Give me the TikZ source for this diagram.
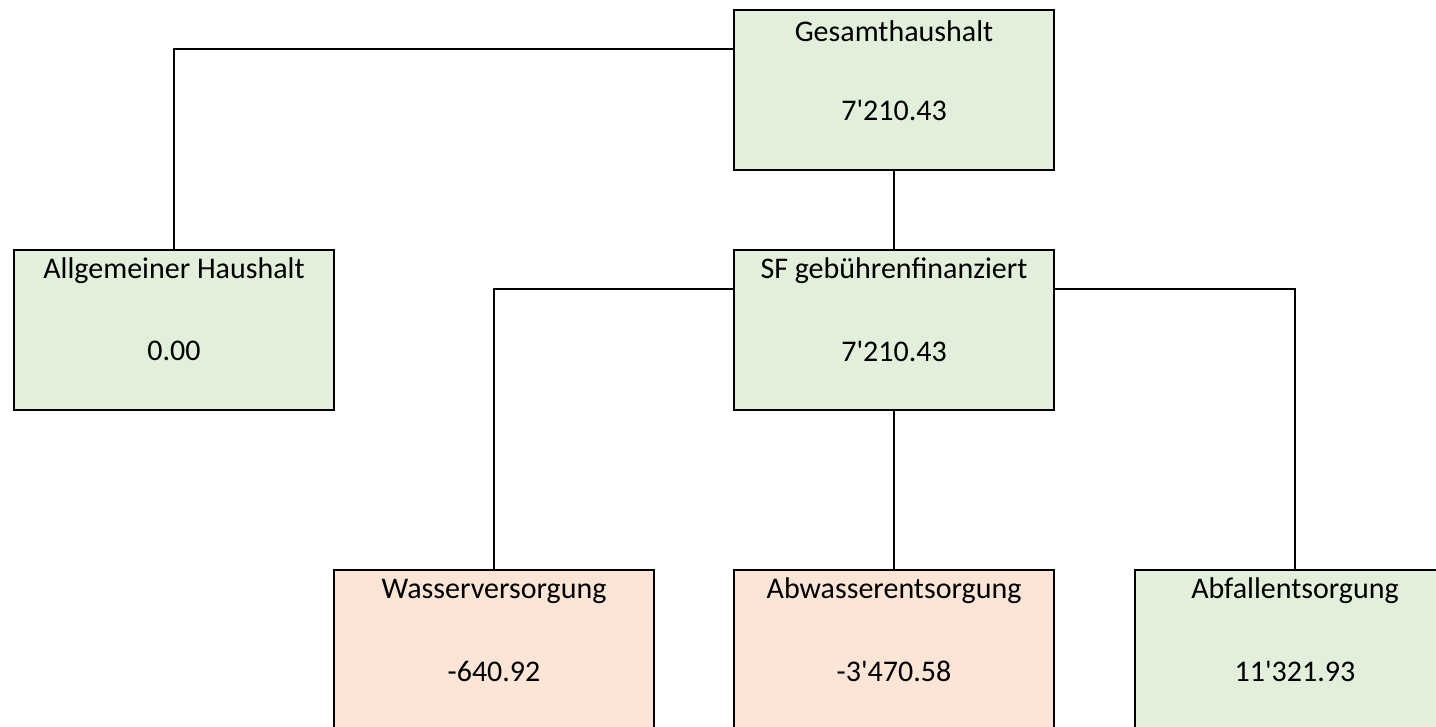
\documentclass[tikz,border=0pt]{standalone}
\usepackage{fontspec}
\setmainfont{Carlito}[Ligatures=TeXOff]
\definecolor{boxgreen}{HTML}{E2EFDA}
\definecolor{boxred}{HTML}{FCE4D6}
\begin{document}
\begin{tikzpicture}[x=1pt,y=1pt,
  box/.style={draw=black, line width=2pt, minimum width=320pt, minimum height=160pt, inner sep=0pt},
  greenbox/.style={box, fill=boxgreen},
  redbox/.style={box, fill=boxred},
  title/.style={font=\fontsize{30}{36}\selectfont, anchor=center, inner sep=0pt},
  conn/.style={draw=black, line width=2pt}
]
\clip (0,0) rectangle (1436,727);
\fill[white] (0,0) rectangle (1436,727);
% boxes
\node[greenbox] (g) at (894,637) {};
\node[greenbox] (a) at (174,397) {};
\node[greenbox] (s) at (894,397) {};
\node[redbox] (w) at (494,77) {};
\node[redbox] (ab) at (894,77) {};
\node[greenbox] (af) at (1295,77) {};
% texts
\node[title] (gt) at ([yshift=-22pt]g.north) {Gesamthaushalt};
\node[title] (gv) at ([yshift=-102pt]g.north) {7'210.43};
\node[title] (at) at ([yshift=-22pt]a.north) {Allgemeiner Haushalt};
\node[title] (av) at ([yshift=-102pt]a.north) {0.00};
\node[title] (st) at ([yshift=-22pt]s.north) {SF gebührenfinanziert};
\node[title] (sv) at ([yshift=-102pt]s.north) {7'210.43};
\node[title] (wt) at ([yshift=-22pt]w.north) {Wasserversorgung};
\node[title] (wv) at ([yshift=-102pt]w.north) {-640.92};
\node[title] (abt) at ([yshift=-22pt]ab.north) {Abwasserentsorgung};
\node[title] (abv) at ([yshift=-102pt]ab.north) {-3'470.58};
\node[title] (aft) at ([yshift=-22pt]af.north) {Abfallentsorgung};
\node[title] (afv) at ([yshift=-102pt]af.north) {11'321.93};
% connectors
\draw[conn] ([yshift=-40pt]g.north west) -| (a.north);
\draw[conn] (g.south) -- (s.north);
\draw[conn] ([yshift=-40pt]s.north west) -| (w.north);
\draw[conn] (s.south) -- (ab.north);
\draw[conn] ([yshift=-40pt]s.north east) -| (af.north);
\end{tikzpicture}
\end{document}
